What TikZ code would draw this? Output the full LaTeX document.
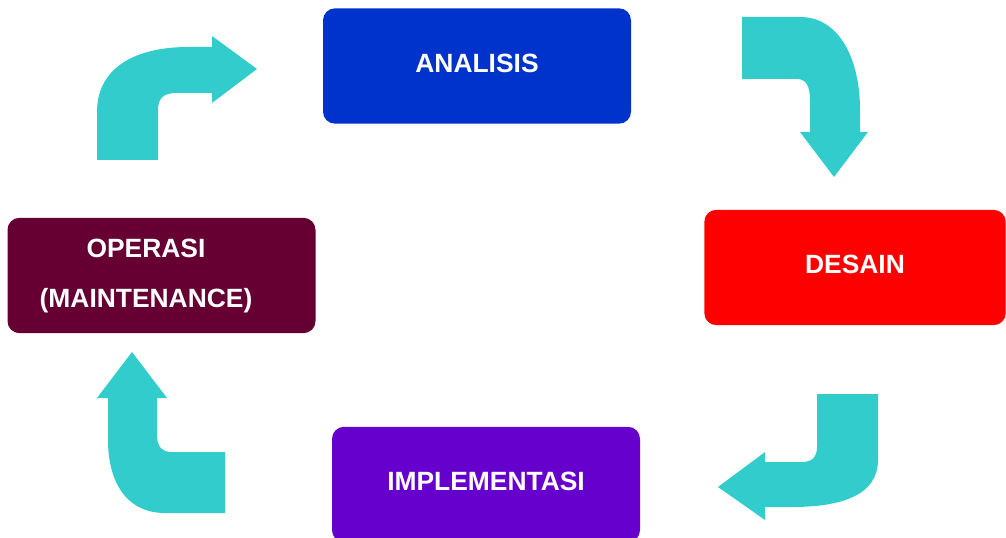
\documentclass[tikz,border=0pt]{standalone}
\usepackage{fontspec}
\setmainfont{Liberation Sans}
\usetikzlibrary{positioning}
\definecolor{Analisis}{HTML}{0033CC}
\definecolor{Desain}{HTML}{FF0000}
\definecolor{Implement}{HTML}{6600CC}
\definecolor{Operasi}{HTML}{660033}
\definecolor{Teal}{HTML}{33CCCC}

\begin{document}
\begin{tikzpicture}[
  x=0.75pt,y=-0.75pt,
  every node/.style={font=\fontsize{19.8}{37.5}\selectfont\bfseries,text=white},
  phasebox/.style={rounded corners=9pt,minimum width=231pt,minimum height=86.5pt,align=center,inner sep=0pt,text depth=4.5pt},
  bendarrow/.style={fill=Teal,draw=none}
]
  \useasboundingbox (0,0) rectangle (1006,538);
  \clip (0,0) rectangle (1006,538);

  % phases
  \node[phasebox,fill=Analisis] (analisis) at (477,66) {ANALISIS};
  \node[phasebox,fill=Desain,minimum width=226pt] (desain) at (855,267.5) {DESAIN};
  \node[phasebox,fill=Implement] (implementasi) at (486,484.5) {IMPLEMENTASI};
  \node[phasebox,fill=Operasi] (operasi) at (161.5,275.5) {};
  \node[align=center] (operasi-text) at (146,276) {OPERASI\\(MAINTENANCE)};

  % block arrows
  \fill[bendarrow] (97,160) -- (97,112) .. controls (97,66) and (138,47) .. (188,47) -- (212,47) -- (212,36)
    -- (257,69) -- (212,103) -- (212,93) -- (176,93) .. controls (163,93) and (158,99) .. (158,110) -- (158,160) -- cycle;
  \fill[bendarrow] (742,17) -- (800,17) .. controls (840,17) and (860,60) .. (860,110) -- (860,132) -- (868,132)
    -- (834,177) -- (800,132) -- (810,132) -- (810,100) .. controls (810,86) and (806,79) .. (797,79) -- (742,79) -- cycle;
  \fill[bendarrow] (817,394) -- (878,394) -- (878,460) .. controls (878,495) and (842,507) .. (792,507) -- (765,507)
    -- (765,520) -- (718,487) -- (765,452) -- (765,462) -- (802,462) .. controls (812,462) and (817,457) .. (817,447) -- cycle;
  \fill[bendarrow] (225,513) -- (165,513) .. controls (125,513) and (108,480) .. (108,440) -- (108,398) -- (97,398)
    -- (132,352) -- (167,398) -- (157,398) -- (157,435) .. controls (157,447) and (162,452) .. (172,452) -- (225,452) -- cycle;
\end{tikzpicture}
\end{document}
